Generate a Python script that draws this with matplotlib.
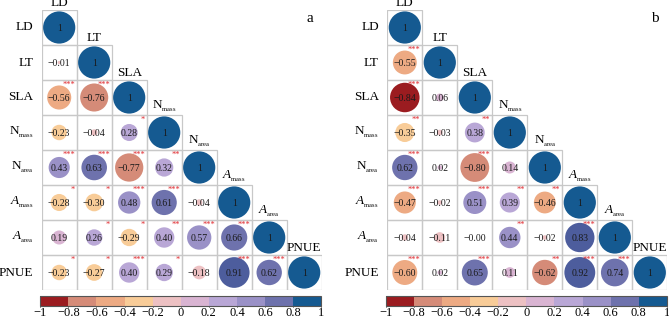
import numpy as np
import matplotlib
matplotlib.use("Agg")
import matplotlib.pyplot as plt
from matplotlib.patches import Circle, Rectangle
from matplotlib.colors import ListedColormap, BoundaryNorm
from matplotlib.colorbar import ColorbarBase

plt.rcParams["font.family"] = ["Liberation Serif", "DejaVu Serif"]
plt.rcParams["mathtext.fontset"] = "custom"
plt.rcParams["mathtext.rm"] = "Liberation Serif"
plt.rcParams["mathtext.it"] = "Liberation Serif:italic"

# ---------------------------------------------------------------------------
# Data
# ---------------------------------------------------------------------------
traits = ["LD", "LT", "SLA",
          r"$\mathrm{N}_{{}_{\mathrm{mass}}}$", r"$\mathrm{N}_{{}_{\mathrm{area}}}$",
          r"$\mathit{A}_{{}_{\mathrm{mass}}}$", r"$\mathit{A}_{{}_{\mathrm{area}}}$", "PNUE"]

# lower-triangle rows (row i holds correlations with traits 0..i-1)
corr_a = [
    [],
    [-0.01],
    [-0.56, -0.76],
    [-0.23, -0.04, 0.28],
    [0.43, 0.63, -0.77, 0.32],
    [-0.28, -0.30, 0.48, 0.61, -0.04],
    [0.19, 0.26, -0.29, 0.40, 0.57, 0.66],
    [-0.23, -0.27, 0.40, 0.29, -0.18, 0.91, 0.62],
]
stars_a = [
    [],
    [""],
    ["***", "***"],
    ["", "", "*"],
    ["***", "***", "***", "**"],
    ["*", "*", "***", "***", ""],
    ["", "*", "*", "**", "***", "***"],
    ["*", "*", "***", "*", "", "***", "***"],
]

corr_b = [
    [],
    [-0.55],
    [-0.84, 0.06],
    [-0.35, -0.03, 0.38],
    [0.62, 0.02, -0.80, 0.14],
    [-0.47, -0.02, 0.51, 0.39, -0.46],
    [-0.04, -0.11, -0.0, 0.44, -0.02, 0.83],
    [-0.60, 0.02, 0.65, 0.11, -0.62, 0.92, 0.74],
]
stars_b = [
    [],
    ["***"],
    ["***", ""],
    ["**", "", "**"],
    ["***", "", "***", ""],
    ["***", "", "***", "**", "**"],
    ["", "", "", "**", "", "***"],
    ["***", "", "***", "", "**", "***", "***"],
]

bin_colors = ["#9B1C20", "#D58B78", "#EDAA83", "#F8CC98", "#EDC1C3",
              "#D9B4D2", "#B9A7D6", "#9A91C7", "#6E72AD", "#155A91"]
# off-diagonal circles in the top bin are drawn a bit lighter in the original
circle_colors = bin_colors[:-1] + ["#4D5D9D"]
bounds = np.linspace(-1, 1, 11)
tick_vals = np.round(np.linspace(-1, 1, 11), 1)


def fmt(v):
    return f"{v:.2f}".replace("-", "\u2212")


def cell_color(r):
    idx = int(np.clip(np.searchsorted(bounds, r, side="right") - 1, 0, 9))
    return bin_colors[idx] if r >= 1 else circle_colors[idx]


def draw_panel(fig, left, corr, stars, tag):
    n = len(traits)
    ax = fig.add_axes([left / 669, 29 / 319, 280 / 669, 280 / 319])
    ax.set_xlim(0, n)
    ax.set_ylim(n, 0)
    ax.axis("off")
    for i in range(n):
        for j in range(i + 1):
            r = 1.0 if i == j else corr[i][j]
            ax.add_patch(Rectangle((j, i), 1, 1, fill=False, ec="#C8C8C8", lw=0.9))
            rad = 0.46 * np.sqrt(abs(r))
            ax.add_patch(Circle((j + 0.5, i + 0.5), rad, fc=cell_color(r), ec="none"))
            txt = "1" if i == j else fmt(r)
            ax.text(j + 0.5, i + 0.52, txt, ha="center", va="center",
                    fontsize=7, color="#1a1a1a")
            if i != j and stars[i][j]:
                ax.text(j + 0.95, i + 0.02, stars[i][j], ha="right", va="top",
                        fontsize=6, color="#E0262B")
        # row label (left) and column label (above diagonal cell)
        ax.text(-0.24, i + 0.5, traits[i], ha="right", va="center", fontsize=9.5)
        ax.text(i + 0.5, i - 0.04, traits[i], ha="center", va="bottom", fontsize=9.5,
                clip_on=False)
    ax.text(n - 0.35, 0.25, tag, ha="center", va="center", fontsize=11)

    cax = fig.add_axes([(left - 1.5) / 669, 13.5 / 319, 281 / 669, 9.3 / 319])
    cb = ColorbarBase(cax, cmap=ListedColormap(bin_colors),
                      norm=BoundaryNorm(bounds, 10), orientation="horizontal",
                      ticks=tick_vals)
    cb.outline.set_edgecolor("#555555")
    cb.outline.set_linewidth(0.8)
    cb.ax.set_xticklabels([("%g" % t).replace("-", "\u2212") for t in tick_vals])
    cb.ax.tick_params(labelsize=9, length=1, width=0.6, pad=0)


fig = plt.figure(figsize=(6.69, 3.19), dpi=100)
draw_panel(fig, 41.7, corr_a, stars_a, "a")
draw_panel(fig, 387.3, corr_b, stars_b, "b")
fig.savefig("out.png", dpi=100)
